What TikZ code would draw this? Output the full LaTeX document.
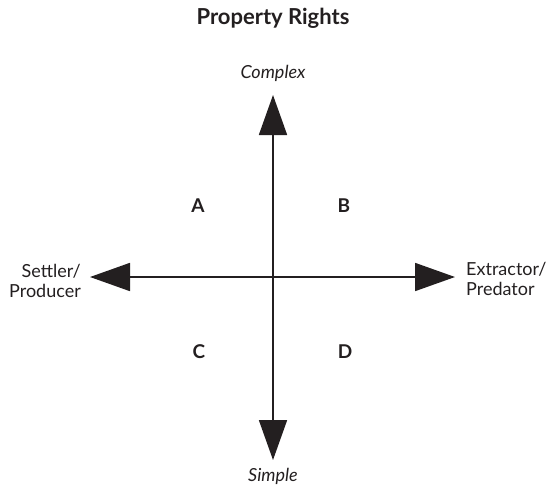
\documentclass[tikz,border=0pt]{standalone}
\usepackage{fontspec}
\setmainfont{Lato}
\usepackage{xcolor}
\definecolor{inkdark}{RGB}{35,31,32}
\usetikzlibrary{arrows.meta,positioning}

\begin{document}
\begin{tikzpicture}[
  x=1pt, y=-1pt,
  every node/.style={font=\fontsize{18}{20}\selectfont,text=inkdark,inner sep=0pt},
  titlelbl/.style={font=\fontsize{22}{24}\selectfont\bfseries},
  quadlbl/.style={font=\fontsize{19}{20}\selectfont\bfseries},
  polelbl/.style={font=\fontsize{18}{20}\selectfont\itshape},
  axis/.style={line width=1.8pt,inkdark,
               {Triangle[length=40pt,width=28pt]}-{Triangle[length=40pt,width=28pt]}},
]
  \useasboundingbox (0,0) rectangle (549,491);

  % Title
  \node[titlelbl] (title) at (273,18) {Property Rights};

  % Axis ends
  \coordinate (top)   at (273,95);
  \coordinate (bot)   at (273,460);
  \coordinate (left)  at (90,277);
  \coordinate (right) at (455,277);

  % Axes
  \draw[axis] (bot) -- (top);
  \draw[axis] (left) -- (right);

  % Pole labels
  \node[polelbl] (complex) at (273,73) {Complex};
  \node[polelbl] (simple)  at (273,476) {Simple};
  \node[anchor=east,align=right] (settler) at (81,281) {Settler/\\Producer};
  \node[anchor=west,align=left] (extractor) at (466,279) {Extractor/\\Predator};

  % Quadrants
  \node[quadlbl] (qa) at (198,206) {A};
  \node[quadlbl] (qb) at (344,206) {B};
  \node[quadlbl] (qc) at (199,352) {C};
  \node[quadlbl] (qd) at (345,352) {D};
\end{tikzpicture}
\end{document}
